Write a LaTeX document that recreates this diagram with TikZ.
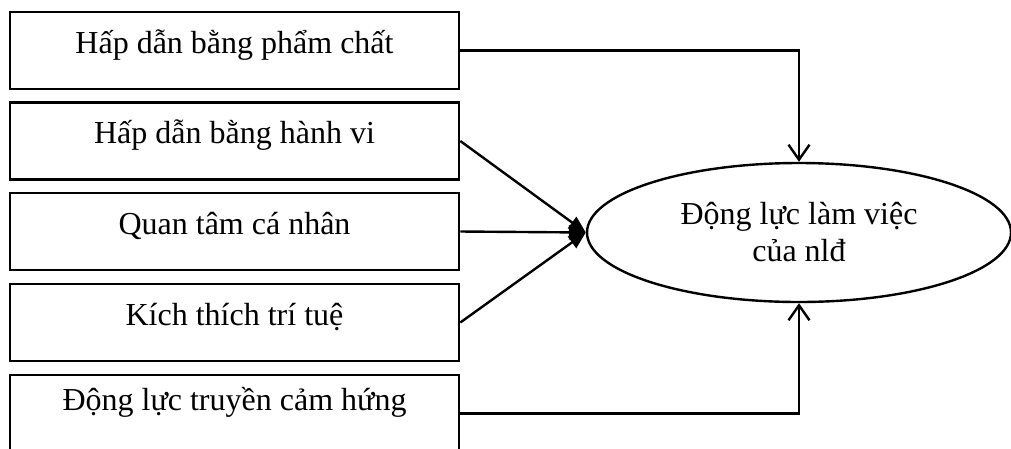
\documentclass[tikz,border=0pt]{standalone}
\usepackage{fontspec}
\setmainfont{Liberation Serif}
\usetikzlibrary{arrows.meta,shapes.geometric}
\begin{document}
\begin{tikzpicture}[x=1pt,y=-1pt,
  every node/.style={font=\fontsize{32}{37}\selectfont},
  factor/.style={draw,line width=2.6pt,rectangle,minimum width=449pt,
    minimum height=77pt,inner sep=0pt,text height=41pt,text depth=36pt},
  goalbox/.style={draw,line width=2.4pt,ellipse,minimum width=424pt,
    minimum height=139pt,inner sep=0pt,align=center},
  link/.style={line width=2.4pt},
  openhead/.style={link,-{Straight Barb[length=15pt,width=21pt,line width=2.4pt]}},
  filledhead/.style={link,-{Triangle[length=17pt,width=14pt]}}]
  \useasboundingbox (0,0) rectangle (1011,448);
  \clip (0,0) rectangle (1011,448);

  % factor boxes on the left
  \node[factor] (b1) at (234.5,50.5) {Hấp dẫn bằng phẩm chất};
  \node[factor] (b2) at (234.5,141) {Hấp dẫn bằng hành vi};
  \node[factor] (b3) at (234.5,231.5) {Quan tâm cá nhân};
  \node[factor] (b4) at (234.5,322.5) {Kích thích trí tuệ};
  \node[factor,text height=35pt,text depth=42pt] (b5) at (234.5,413.5) {Động lực truyền cảm hứng};

  % outcome ellipse
  \node[goalbox] (goal) at (799,232.5) {Động lực làm việc\\của nlđ};

  % connectors
  \draw[openhead] (b1.east) -| (goal.north);
  \draw[openhead] (b5.east) -| (goal.south);
  \draw[filledhead] (b2.east) -- (goal.west);
  \draw[filledhead] (b3.east) -- (goal.west);
  \draw[filledhead] (b4.east) -- (goal.west);
\end{tikzpicture}
\end{document}
